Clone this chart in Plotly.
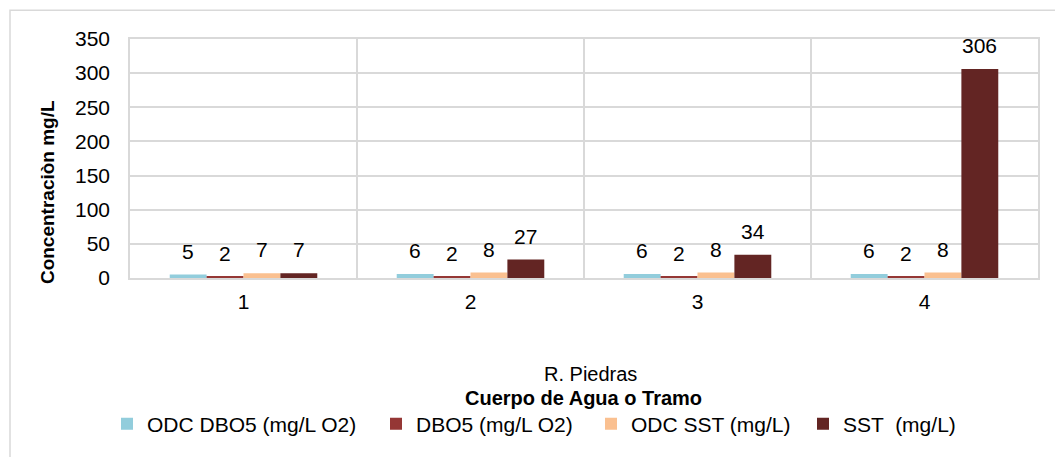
import plotly.graph_objects as go

categories = ["1", "2", "3", "4"]
series_names = ["ODC DBO5 (mg/L O2)", "DBO5 (mg/L O2)", "ODC SST (mg/L)", "SST  (mg/L)"]
odc_dbo5 = [5, 6, 6, 6]
dbo5 = [2, 2, 2, 2]
odc_sst = [7, 8, 8, 8]
sst = [7, 27, 34, 306]
colors = ["#92CDDC", "#953735", "#FAC090", "#632523"]

series_values = [odc_dbo5, dbo5, odc_sst, sst]
xpos = [i + 1 for i in range(len(categories))]

FONT = "Liberation Sans, Arial, sans-serif"
BARGAP = 0.35
GRID = "#d9d9d9"
L, R, T, B = 130, 17, 39, 176
W, H = 1055, 457
PW, PH = W - L - R, H - T - B


def px_x(p):
    return (p - L) / PW


def px_y(p):
    return (H - B - p) / PH


legend_text_starts = [145, 414, 629, 841]
legend_names = ["legend", "legend2", "legend3", "legend4"]

fig = go.Figure()
for name, vals, col, lg in zip(series_names, series_values, colors, legend_names):
    fig.add_trace(go.Bar(x=xpos, y=vals, name=name, legend=lg,
                         marker=dict(color=col, line=dict(width=0))))

# data labels
n = len(series_values)
w = (1 - BARGAP) / n
annotations = []
for k, vals in enumerate(series_values):
    off = (k - (n - 1) / 2) * w
    for xi, v in zip(xpos, vals):
        annotations.append(dict(x=xi + off, y=v, xref="x", yref="y", text=str(v),
                                showarrow=False, yanchor="bottom", yshift=10,
                                font=dict(family=FONT, size=21, color="#000000")))

annotations += [
    dict(x=px_x(47), y=px_y(194), xref="paper", yref="paper", text="<b>Concentraciòn mg/L</b>",
         textangle=-90, showarrow=False, xanchor="center", yanchor="middle",
         font=dict(family=FONT, size=19, color="#000000")),
    dict(x=px_x(590), y=px_y(378), xref="paper", yref="paper", text="R. Piedras",
         showarrow=False, xanchor="center", yanchor="middle", borderpad=0,
         font=dict(family=FONT, size=20, color="#000000")),
    dict(x=px_x(583), y=px_y(402), xref="paper", yref="paper", text="<b>Cuerpo de Agua o Tramo</b>",
         showarrow=False, xanchor="center", yanchor="middle", borderpad=0,
         font=dict(family=FONT, size=20, color="#000000")),
]

legend_layout = {}
for lg, ts in zip(legend_names, legend_text_starts):
    legend_layout[lg] = dict(orientation="h", x=px_x(ts - 38), xanchor="left", y=px_y(429),
                             yanchor="middle", font=dict(family=FONT, size=21, color="#000000"),
                             bgcolor="rgba(0,0,0,0)", borderwidth=0)

fig.update_layout(
    width=W, height=H,
    margin=dict(l=L, r=R, t=T, b=B),
    paper_bgcolor="white", plot_bgcolor="white",
    barmode="group", bargap=BARGAP, bargroupgap=0,
    font=dict(family=FONT, size=21, color="#000000"),
    showlegend=True,
    annotations=annotations,
    shapes=[dict(type="rect", xref="paper", yref="paper",
                 x0=px_x(10), x1=px_x(1070), y0=px_y(480), y1=px_y(10),
                 line=dict(color=GRID, width=1.5), fillcolor="rgba(0,0,0,0)", layer="below")],
    **legend_layout,
)
fig.update_xaxes(range=[0.5, 4.5], tickvals=xpos, ticktext=categories, showgrid=False,
                 showline=True, linecolor=GRID, linewidth=1.5, mirror=True, ticks="",
                 ticklabelstandoff=4, zeroline=False,
                 minor=dict(tickvals=[1.5, 2.5, 3.5], showgrid=True, gridcolor=GRID, gridwidth=1.5, ticks=""))
fig.update_yaxes(range=[0, 350], dtick=50, showgrid=True, gridcolor=GRID, gridwidth=1.5,
                 showline=True, linecolor=GRID, linewidth=1.5, mirror=True, ticks="",
                 ticklabelstandoff=14, zeroline=False)

fig.write_html("out.html", config={"displayModeBar": False},
               post_script="document.body.style.margin='0';window.dispatchEvent(new Event('resize'));")
